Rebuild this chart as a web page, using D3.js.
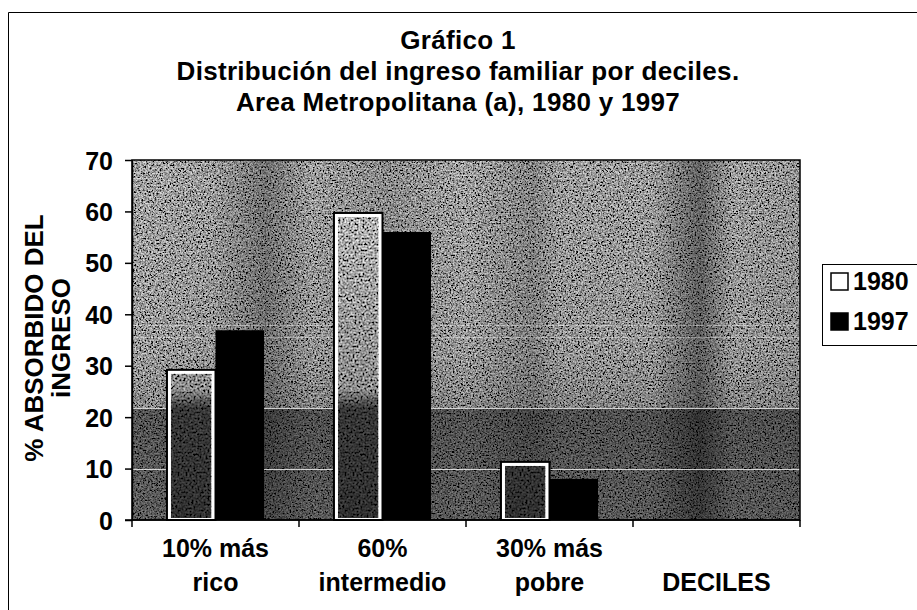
<!DOCTYPE html>
<html>
<head>
<meta charset="utf-8">
<script src="https://cdn.jsdelivr.net/npm/d3@7"></script>
<style>
  body { margin: 0; background: #fff; }
  svg text { font-family: "Liberation Sans", Arial, sans-serif; font-weight: bold; fill: #000; }
</style>
</head>
<body>
<div id="chart"></div>
<script>
// data
const categories = ["10% más rico", "60% intermedio", "30% más pobre", "DECILES"];
const categoryLines = [["10% más", "rico"], ["60%", "intermedio"], ["30% más", "pobre"], ["", "DECILES"]];
const series = ["1980", "1997"];
const values1980 = [29.2, 59.7, 11.3, null];
const values1997 = [36.9, 56.0, 8.0, null];
const yTicks = [0, 10, 20, 30, 40, 50, 60, 70];
const titleLines = ["Gráfico 1", "Distribución del ingreso familiar por deciles.", "Area Metropolitana (a), 1980 y 1997"];
const yLabelLines = ["% ABSORBIDO DEL", "iNGRESO"];

const width = 917, height = 610;
const margin = { top: 160, right: 117, bottom: 90, left: 132 };
const bandTop = 21.8; // darker lower half of the scanned background

const svg = d3.select("#chart").append("svg")
    .attr("width", width)
    .attr("height", height);

const defs = svg.append("defs");

// scanner grain
function makeGrain(id, freq, seed) {
    const f = defs.append("filter")
        .attr("id", id)
        .attr("x", 0).attr("y", 0).attr("width", 1).attr("height", 1);
    f.append("feTurbulence")
        .attr("type", "fractalNoise")
        .attr("baseFrequency", freq)
        .attr("numOctaves", 3)
        .attr("seed", seed)
        .attr("result", "t");
    f.append("feColorMatrix")
        .attr("in", "t")
        .attr("type", "matrix")
        .attr("values", "0.33 0.33 0.33 0 0  0.33 0.33 0.33 0 0  0.33 0.33 0.33 0 0  0 0 0 0 1")
        .attr("result", "g");
    const ct = f.append("feComponentTransfer").attr("in", "g").attr("result", "c");
    ["feFuncR", "feFuncG", "feFuncB"].forEach(fn =>
        ct.append(fn).attr("type", "linear").attr("slope", 4).attr("intercept", -1.5));
    f.append("feBlend")
        .attr("in", "c").attr("in2", "SourceGraphic")
        .attr("mode", "overlay")
        .attr("result", "b");
    f.append("feComposite")
        .attr("in", "b").attr("in2", "SourceGraphic")
        .attr("operator", "in");
}
makeGrain("grain", 0.6, 4);
makeGrain("grainBar", 0.5, 9);

const x = d3.scaleBand()
    .domain(categories)
    .range([margin.left, width - margin.right]);

const xSub = d3.scaleBand()
    .domain(series)
    .range([0, x.bandwidth()])
    .paddingInner(0)
    .paddingOuter(0.72);

const y = d3.scaleLinear()
    .domain([0, 70])
    .range([height - margin.bottom, margin.top]);

// vertical gradient: light upper area, dark lower band
const bg = defs.append("linearGradient")
    .attr("id", "bgGrad")
    .attr("gradientUnits", "userSpaceOnUse")
    .attr("x1", 0).attr("x2", 0)
    .attr("y1", y(70)).attr("y2", y(0));
const bandOffset = (y(bandTop) - y(70)) / (y(0) - y(70));
bg.append("stop").attr("offset", 0).attr("stop-color", "#a6a6a6");
bg.append("stop").attr("offset", bandOffset - 0.15).attr("stop-color", "#9c9c9c");
bg.append("stop").attr("offset", bandOffset - 0.001).attr("stop-color", "#8a8a8a");
bg.append("stop").attr("offset", bandOffset).attr("stop-color", "#555");
bg.append("stop").attr("offset", 1).attr("stop-color", "#5e5e5e");

// darker vertical streaks of the scan
const streaks = defs.append("linearGradient")
    .attr("id", "streaks")
    .attr("gradientUnits", "userSpaceOnUse")
    .attr("x1", margin.left).attr("x2", width - margin.right)
    .attr("y1", 0).attr("y2", 0);
[[0, 0], [0.12, 0.05], [0.2, 0.3], [0.27, 0.05], [0.38, 0.15], [0.5, 0.02],
 [0.6, 0.2], [0.64, 0.05], [0.78, 0.05], [0.85, 0.4], [0.9, 0.05], [1, 0.1]]
    .forEach(([o, a]) => streaks.append("stop")
        .attr("offset", o).attr("stop-color", "#000").attr("stop-opacity", a));

const barGrad = defs.append("linearGradient")
    .attr("id", "barGrad")
    .attr("gradientUnits", "userSpaceOnUse")
    .attr("x1", 0).attr("x2", 0)
    .attr("y1", y(70)).attr("y2", y(0));
barGrad.append("stop").attr("offset", 0).attr("stop-color", "#c0c0c0");
barGrad.append("stop").attr("offset", bandOffset - 0.05).attr("stop-color", "#8c8c8c");
barGrad.append("stop").attr("offset", bandOffset).attr("stop-color", "#383838");
barGrad.append("stop").attr("offset", 1).attr("stop-color", "#303030");

// outer frame of the figure (only left and top show on the scan)
svg.append("path")
    .attr("d", `M8.5,${height} V12.5 H${width}`)
    .attr("fill", "none")
    .attr("stroke", "#000")
    .attr("stroke-width", 1);

// plot area
const plotW = width - margin.right - margin.left;
svg.append("rect")
    .attr("x", margin.left)
    .attr("y", y(70))
    .attr("width", plotW)
    .attr("height", y(0) - y(70))
    .attr("fill", "url(#bgGrad)")
    .attr("filter", "url(#grain)");
svg.append("rect")
    .attr("x", margin.left)
    .attr("y", y(70))
    .attr("width", plotW)
    .attr("height", y(0) - y(70))
    .attr("fill", "url(#streaks)");

// faint white scan streaks
svg.append("g")
    .selectAll("line")
    .data([10, bandTop, 35.5, 38])
    .join("line")
    .attr("x1", margin.left)
    .attr("x2", width - margin.right)
    .attr("y1", d => Math.round(y(d)) + 0.5)
    .attr("y2", d => Math.round(y(d)) + 0.5)
    .attr("stroke", "#fff")
    .attr("stroke-opacity", (d, i) => i < 2 ? 0.75 : 0.35)
    .attr("stroke-width", 1);

svg.append("rect")
    .attr("x", margin.left)
    .attr("y", y(70))
    .attr("width", plotW)
    .attr("height", y(0) - y(70))
    .attr("fill", "none")
    .attr("stroke", "#000")
    .attr("stroke-width", 1.5);

// bars
const rows = categories.map((c, i) => ({ cat: c, v: [values1980[i], values1997[i]] }));
const groups = svg.append("g")
    .selectAll("g")
    .data(rows)
    .join("g")
    .attr("transform", d => `translate(${x(d.cat)},0)`);

const bars = groups.selectAll("g")
    .data(d => series.map((s, j) => ({ s, v: d.v[j] })).filter(b => b.v != null))
    .join("g");

bars.filter(d => d.s === "1980").each(function (d) {
    const g = d3.select(this);
    g.append("rect")
        .attr("x", xSub(d.s))
        .attr("y", y(d.v))
        .attr("width", xSub.bandwidth())
        .attr("height", y(0) - y(d.v))
        .attr("fill", "#fff")
        .attr("stroke", "#000")
        .attr("stroke-width", 2);
    g.append("rect")
        .attr("x", xSub(d.s) + 4)
        .attr("y", y(d.v) + 4)
        .attr("width", xSub.bandwidth() - 8)
        .attr("height", y(0) - y(d.v) - 6)
        .attr("fill", "url(#barGrad)")
        .attr("filter", "url(#grainBar)");
});

bars.filter(d => d.s === "1997")
    .append("rect")
    .attr("x", d => xSub(d.s))
    .attr("y", d => y(d.v))
    .attr("width", xSub.bandwidth())
    .attr("height", d => y(0) - y(d.v))
    .attr("fill", "#000");

// y axis
const yAxis = svg.append("g")
    .attr("transform", `translate(${margin.left},0)`)
    .call(d3.axisLeft(y).tickValues(yTicks).tickSize(7).tickPadding(12).tickSizeOuter(0));
yAxis.select(".domain").attr("stroke-width", 1.5);
yAxis.selectAll("line").attr("stroke-width", 1.5);
yAxis.selectAll("text")
    .style("font-size", "25px")
    .attr("dy", "0.36em");

// x axis, ticks on category boundaries
const bounds = categories.map(c => x(c)).concat([x.range()[1]]);
const xAxisG = svg.append("g");
xAxisG.append("line")
    .attr("x1", margin.left - 7).attr("x2", x.range()[1])
    .attr("y1", y(0)).attr("y2", y(0))
    .attr("stroke", "#000").attr("stroke-width", 1.5);
xAxisG.selectAll(".tick")
    .data(bounds)
    .join("line")
    .attr("class", "tick")
    .attr("x1", d => d).attr("x2", d => d)
    .attr("y1", y(0)).attr("y2", y(0) + 7)
    .attr("stroke", "#000").attr("stroke-width", 1.5);

const catLabels = svg.append("g")
    .selectAll("text")
    .data(categories)
    .join("text")
    .attr("x", d => x(d) + x.bandwidth() / 2)
    .attr("y", y(0) + 37)
    .attr("text-anchor", "middle")
    .style("font-size", "25px");
catLabels.selectAll("tspan")
    .data((d, i) => categoryLines[i])
    .join("tspan")
    .attr("x", function () { return d3.select(this.parentNode).attr("x"); })
    .attr("dy", (d, i) => i === 0 ? 0 : 34)
    .text(d => d);

// y axis title
const yTitle = svg.append("text")
    .attr("transform", `translate(43,${(y(0) + y(70)) / 2 - 2}) rotate(-90)`)
    .attr("text-anchor", "middle")
    .style("font-size", "26px");
yTitle.selectAll("tspan")
    .data(yLabelLines)
    .join("tspan")
    .attr("x", 0)
    .attr("dy", (d, i) => i === 0 ? 0 : 27)
    .text(d => d);

// chart title
svg.append("text")
    .attr("x", 458)
    .attr("y", 49)
    .attr("text-anchor", "middle")
    .style("font-size", "26px")
    .style("letter-spacing", "0.3px")
    .selectAll("tspan")
    .data(titleLines)
    .join("tspan")
    .attr("x", 458)
    .attr("dy", (d, i) => i === 0 ? 0 : 31)
    .text(d => d);

// legend
const legend = svg.append("g").attr("transform", "translate(822,264)");
legend.append("rect")
    .attr("x", 0.5).attr("y", 0.5)
    .attr("width", 110).attr("height", 81)
    .attr("fill", "#fff")
    .attr("stroke", "#000");
const items = legend.selectAll("g.item")
    .data(series)
    .join("g")
    .attr("class", "item")
    .attr("transform", (d, i) => `translate(9,${9 + i * 40})`);
items.append("rect")
    .attr("width", 17).attr("height", 17)
    .attr("fill", d => d === "1980" ? "#fff" : "#000")
    .attr("stroke", "#000")
    .attr("stroke-width", 1.5);
items.append("text")
    .attr("x", 22)
    .attr("y", 17)
    .style("font-size", "25px")
    .text(d => d);
</script>
</body>
</html>
